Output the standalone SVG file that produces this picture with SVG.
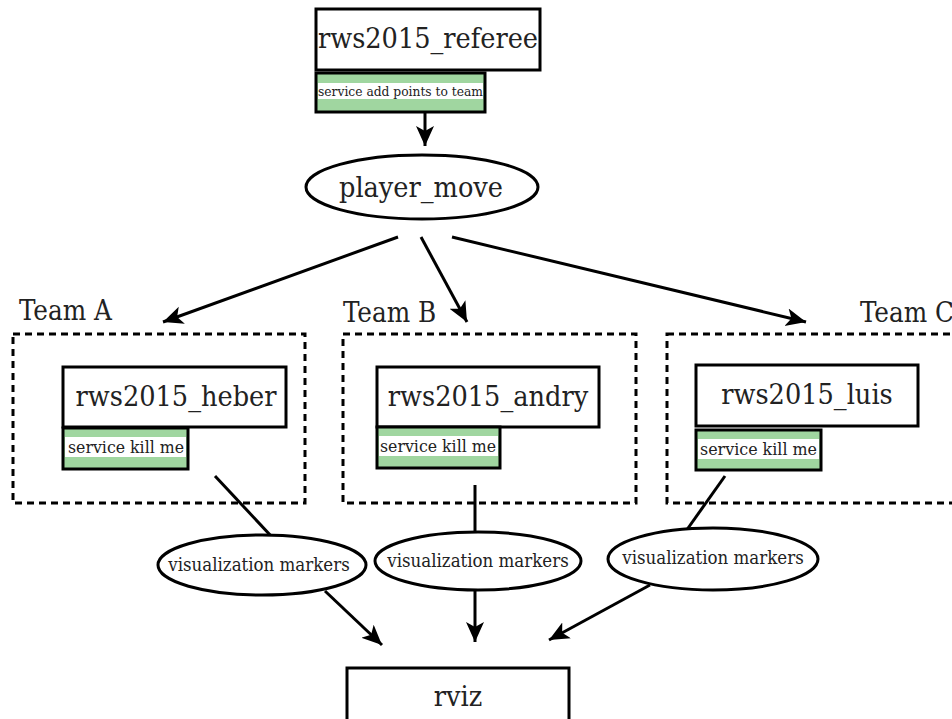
<svg xmlns="http://www.w3.org/2000/svg" width="952" height="719" viewBox="0 0 952 719">
<style>
.box{fill:#fff;stroke:#000;stroke-width:3}
.svc{fill:#a0d6a0;stroke:#000;stroke-width:3}
.band{fill:#fff}
.team{fill:none;stroke:#000;stroke-width:3;stroke-dasharray:7,5}
.ell{fill:#fff;stroke:#000;stroke-width:3}
.big{font-family:"DejaVu Serif Condensed","DejaVu Serif",serif;font-size:28.5px;fill:#222;text-anchor:middle}
.small{font-family:"DejaVu Serif Condensed","DejaVu Serif",serif;font-size:13px;fill:#222}
.kill{font-family:"DejaVu Serif Condensed","DejaVu Serif",serif;font-size:16.5px;fill:#222}
.vis{font-family:"DejaVu Serif Condensed","DejaVu Serif",serif;font-size:18.5px;fill:#222;text-anchor:middle}
.lbl{font-family:"DejaVu Serif Condensed","DejaVu Serif",serif;font-size:27.5px;fill:#222}
.conn{fill:none;stroke:#000;stroke-width:3}
</style>
<defs>
<marker id="ah" markerUnits="userSpaceOnUse" markerWidth="24" markerHeight="20" refX="20" refY="9" orient="auto">
<path d="M0,0 L20,9 L0,18 L5,9 z" fill="#000"/>
</marker>
</defs>
<rect width="952" height="719" fill="#fff"/>
<g id="team_a">
<rect class="team" x="13" y="334" width="292" height="169"/>
<text class="lbl" x="19" y="320">Team A</text>
</g>
<g id="team_b">
<rect class="team" x="343" y="334" width="293" height="169"/>
<text class="lbl" x="343" y="322">Team B</text>
</g>
<g id="team_c">
<rect class="team" x="667" y="334" width="300" height="169"/>
<text class="lbl" x="860" y="322">Team C</text>
</g>
<g id="connectors">
<line class="conn" x1="425" y1="112" x2="425" y2="146" marker-end="url(#ah)"/>
<line class="conn" x1="398" y1="237" x2="163" y2="322" marker-end="url(#ah)"/>
<line class="conn" x1="421" y1="237" x2="467" y2="322" marker-end="url(#ah)"/>
<line class="conn" x1="452" y1="237" x2="806" y2="322" marker-end="url(#ah)"/>
<line class="conn" x1="215" y1="476" x2="272" y2="537"/>
<line class="conn" x1="325" y1="591" x2="382" y2="645" marker-end="url(#ah)"/>
<line class="conn" x1="475" y1="485" x2="475" y2="534"/>
<line class="conn" x1="475" y1="591" x2="475" y2="642" marker-end="url(#ah)"/>
<line class="conn" x1="725" y1="476" x2="686" y2="531"/>
<line class="conn" x1="650" y1="585" x2="549" y2="640" marker-end="url(#ah)"/>
</g>
<g id="referee">
<rect class="box" x="316" y="9" width="224" height="61"/>
<text class="big" x="428" y="48">rws2015_referee</text>
<rect class="svc" x="316" y="73" width="169" height="39"/>
<rect class="band" x="318" y="83" width="165" height="16"/>
<text class="small" x="318" y="96" textLength="165" lengthAdjust="spacingAndGlyphs">service add points to team</text>
</g>
<g id="player_move">
<ellipse class="ell" cx="422" cy="187" rx="116" ry="32"/>
<text class="big" x="421" y="197">player_move</text>
</g>
<g id="heber">
<rect class="box" x="63" y="367" width="223" height="60"/>
<text class="big" x="176" y="406">rws2015_heber</text>
<rect class="svc" x="63" y="428" width="125" height="41"/>
<rect class="band" x="65" y="437" width="121" height="20"/>
<text class="kill" x="68" y="453" textLength="116" lengthAdjust="spacingAndGlyphs">service kill me</text>
</g>
<g id="andry">
<rect class="box" x="377" y="367" width="222" height="60"/>
<text class="big" x="488" y="406">rws2015_andry</text>
<rect class="svc" x="377" y="427" width="123" height="41"/>
<rect class="band" x="379" y="436" width="119" height="20"/>
<text class="kill" x="380" y="452" textLength="116" lengthAdjust="spacingAndGlyphs">service kill me</text>
</g>
<g id="luis">
<rect class="box" x="696" y="365" width="222" height="61"/>
<text class="big" x="807" y="404">rws2015_luis</text>
<rect class="svc" x="696" y="430" width="125" height="40"/>
<rect class="band" x="698" y="439" width="121" height="20"/>
<text class="kill" x="700" y="455" textLength="117" lengthAdjust="spacingAndGlyphs">service kill me</text>
</g>
<g id="vis_a">
<ellipse class="ell" cx="262" cy="565" rx="104" ry="30"/>
<text class="vis" x="259" y="571">visualization markers</text>
</g>
<g id="vis_b">
<ellipse class="ell" cx="478" cy="561" rx="103" ry="29"/>
<text class="vis" x="478" y="567">visualization markers</text>
</g>
<g id="vis_c">
<ellipse class="ell" cx="713" cy="559" rx="105" ry="31"/>
<text class="vis" x="713" y="564">visualization markers</text>
</g>
<g id="rviz">
<rect class="box" x="347" y="668" width="222" height="60"/>
<text class="big" x="458" y="706">rviz</text>
</g>
</svg>
